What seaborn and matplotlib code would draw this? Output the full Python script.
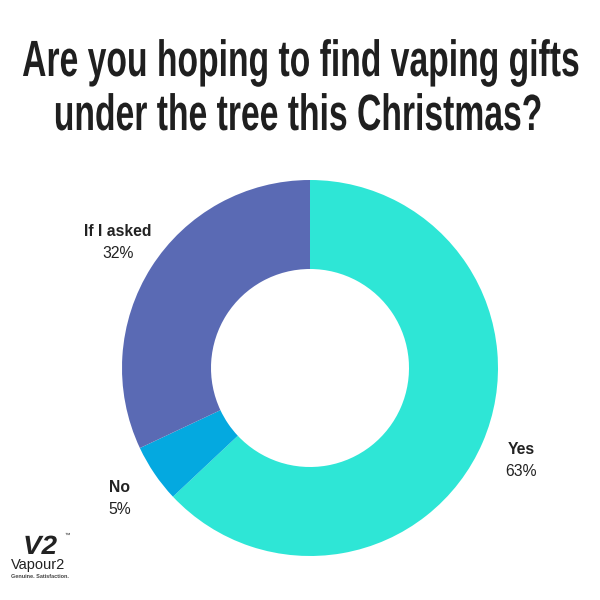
import matplotlib
matplotlib.use("Agg")
import matplotlib.pyplot as plt
import seaborn as sns
from matplotlib.patheffects import AbstractPathEffect
from matplotlib.transforms import Affine2D

categories = ["Yes", "No", "If I asked"]
values = [63, 5, 32]
pct_labels = ["63%", "5%", "32%"]
colors = ["#2EE6D6", "#04A9E0", "#5A6AB4"]
title_lines = ["Are you hoping to find vaping gifts", "under the tree this Christmas?"]


class VStretch(AbstractPathEffect):
    """Draw text glyphs stretched vertically about the baseline."""
    def __init__(self, sy):
        super().__init__()
        self.sy = sy

    def draw_path(self, renderer, gc, tpath, affine, rgbFace=None):
        renderer.draw_path(gc, tpath, Affine2D().scale(1, self.sy) + affine, rgbFace)


sns.set_theme(style="white")
plt.rcParams['font.family'] = ['Liberation Sans', 'DejaVu Sans']

fig = plt.figure(figsize=(6, 6), dpi=100)
ax = fig.add_axes([0, 0, 1, 1])

pal = sns.color_palette(colors)
ax.pie(values, colors=pal, startangle=90, counterclock=False,
       center=(310, 232), radius=188, frame=True,
       wedgeprops=dict(width=89, edgecolor='none', linewidth=0))
ax.set_xlim(0, 600)
ax.set_ylim(0, 600)
ax.set_aspect('equal')
ax.axis('off')

# title: fitted to reference width, stretched vertically to reference cap height
title_kw = dict(ha='center', va='baseline', color='#1f1f1f',
                family='Liberation Sans', fontweight='bold')
t1 = ax.text(301, 600 - 76, title_lines[0], fontsize=30, **title_kw)
t2 = ax.text(298, 600 - 130, title_lines[1], fontsize=30, **title_kw)
fig.canvas.draw()
r = fig.canvas.get_renderer()
w = t1.get_window_extent(r).width
fs = 30 * 558 / w
t1.set_fontsize(fs)
t2.set_fontsize(fs)
cap_px = 0.716 * fs * 100 / 72
sy = 36.5 / cap_px
for t in (t1, t2):
    t.set_path_effects([VStretch(sy)])

# labels
label_pos = {"Yes": (521, 450), "No": (120, 487), "If I asked": (118, 231)}
for cat, pct in zip(categories, pct_labels):
    x, y = label_pos[cat]
    ax.text(x, 600 - y, cat, ha='center', va='center', fontsize=11.3,
            fontweight='bold', color='#222222')
    ax.text(x, 600 - (y + 22), pct, ha='center', va='center', fontsize=11.3,
            color='#222222')

# logo
v2 = ax.text(40, 600 - 554, "V2", ha='center', va='baseline', fontsize=20,
             fontweight='bold', fontstyle='italic', color='#222222')
v2.set_path_effects([VStretch(0.95)])
ax.text(67, 600 - 535, "™", ha='center', va='center', fontsize=4, color='#222222')
ax.text(38, 600 - 565, "Vapour2", ha='center', va='center', fontsize=10.5,
        color='#222222')
ax.text(40, 600 - 577, "Genuine. Satisfaction.", ha='center', va='center',
        fontsize=4, fontweight='bold', color='#444444')

fig.savefig("out.png", dpi=100, facecolor='white')
